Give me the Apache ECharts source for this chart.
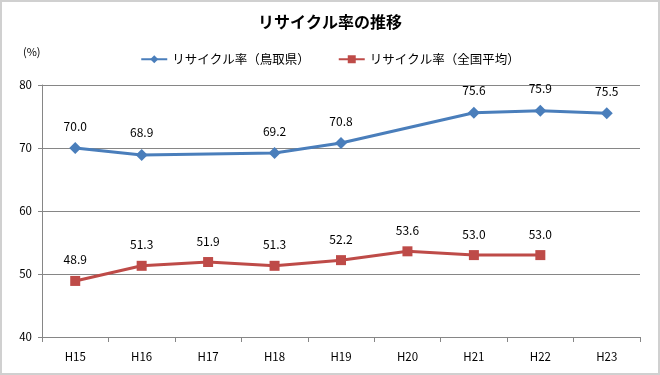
<!DOCTYPE html>
<html>
<head>
<meta charset="utf-8">
<script src="https://cdn.jsdelivr.net/npm/echarts@6/dist/echarts.min.js"></script>
<style>
html,body{margin:0;padding:0;background:#fff;}
#main{width:656px;height:371px;border:2px solid #d0d0d0;}
</style>
</head>
<body>
<div id="main"></div>
<script>
var categories = ['H15', 'H16', 'H17', 'H18', 'H19', 'H20', 'H21', 'H22', 'H23'];
// 鳥取県 (H17, H20 はデータなし)
var tottori = [70.0, 68.9, null, 69.2, 70.8, null, 75.6, 75.9, 75.5];
// 全国平均
var national = [48.9, 51.3, 51.9, 51.3, 52.2, 53.6, 53.0, 53.0, null];

var font = '"Noto Sans CJK JP", "Liberation Sans", sans-serif';

function fmt(p){
	return p.value == null ? '' : p.value.toFixed(1);
}

var myChart = echarts.init(document.getElementById('main'));
var option = {
	animation: false,
	textStyle: {fontFamily: font},
	title: {
		text: 'リサイクル率の推移',
		left: 'center',
		top: 7,
		textStyle: {fontSize: 16, fontWeight: 'bold', color: '#000', fontFamily: font}
	},
	legend: {
		top: 46,
		left: 'center',
		itemGap: 28,
		itemWidth: 26,
		itemHeight: 10,
		textStyle: {fontSize: 12.5, color: '#000', fontFamily: font},
		data: ['リサイクル率（鳥取県）', 'リサイクル率（全国平均）']
	},
	graphic: [{
		type: 'text',
		left: 21,
		top: 44,
		style: {text: '(%)', fontSize: 11, fill: '#000', fontFamily: font}
	}],
	grid: {left: 40, right: 18, top: 83, bottom: 36},
	xAxis: {
		type: 'category',
		data: categories,
		boundaryGap: true,
		axisLine: {lineStyle: {color: '#868686'}},
		axisTick: {show: true, length: 5, lineStyle: {color: '#868686'}},
		axisLabel: {fontSize: 11.5, color: '#000', margin: 14}
	},
	yAxis: {
		type: 'value',
		min: 40,
		max: 80,
		interval: 10,
		axisLine: {show: true, lineStyle: {color: '#868686'}},
		axisTick: {show: true, length: 4, lineStyle: {color: '#868686'}},
		axisLabel: {fontSize: 11.5, color: '#000', margin: 10},
		splitLine: {lineStyle: {color: '#868686'}}
	},
	series: [
		{
			name: 'リサイクル率（鳥取県）',
			type: 'line',
			data: tottori,
			connectNulls: true,
			symbol: 'diamond',
			symbolSize: 12,
			lineStyle: {width: 3, color: '#4a7ebb'},
			itemStyle: {color: '#4a7ebb'},
			label: {show: true, position: 'top', distance: 10, fontSize: 12, color: '#000', formatter: fmt}
		},
		{
			name: 'リサイクル率（全国平均）',
			type: 'line',
			data: national,
			symbol: 'rect',
			symbolSize: 10,
			lineStyle: {width: 3, color: '#be4b48'},
			itemStyle: {color: '#be4b48'},
			label: {show: true, position: 'top', distance: 10, fontSize: 12, color: '#000', formatter: fmt}
		}
	]
};
myChart.setOption(option);
</script>
</body>
</html>
